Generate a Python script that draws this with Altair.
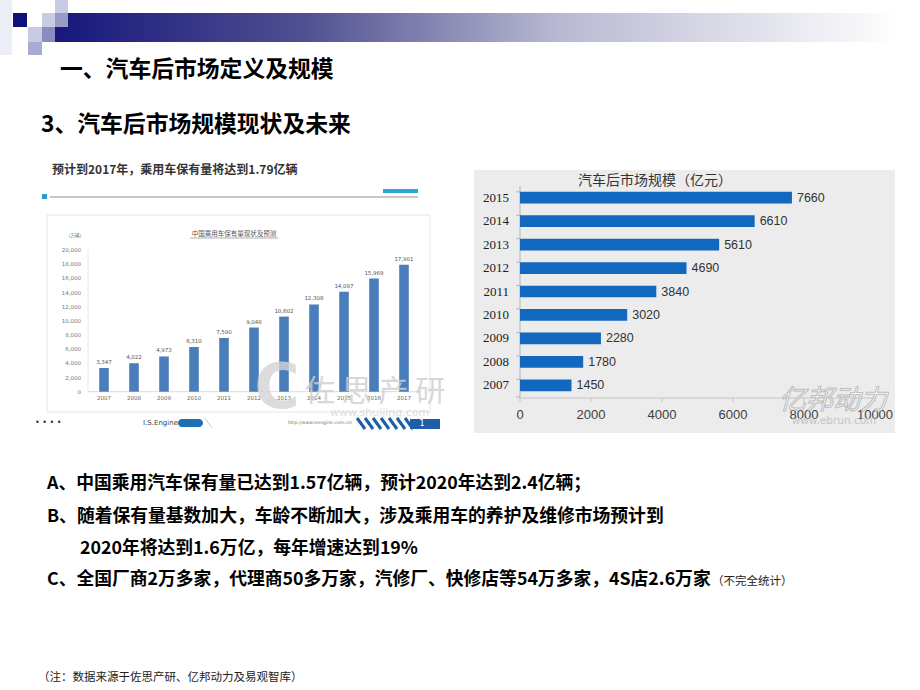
import altair as alt
import pandas as pd

# ---------------- data ----------------
left_years = ["2007", "2008", "2009", "2010", "2011", "2012", "2013", "2014", "2015", "2016", "2017"]
left_values = [3347, 4022, 4973, 6310, 7590, 9048, 10602, 12308, 14097, 15969, 17901]
left_ticks = [0, 2000, 4000, 6000, 8000, 10000, 12000, 14000, 16000, 18000, 20000]

right_years = ["2015", "2014", "2013", "2012", "2011", "2010", "2009", "2008", "2007"]
right_values = [7660, 6610, 5610, 4690, 3840, 3020, 2280, 1780, 1450]
right_ticks = [0, 2000, 4000, 6000, 8000, 10000]

CJK = "Noto Sans CJK SC"
ONE = alt.Data(values=[{}])


def txt(s, x, y, size, align="left", color="#000000", weight="normal", font=CJK, **kw):
    return alt.Chart(ONE).mark_text(
        text=s, align=align, baseline="middle", fontSize=size, font=font,
        color=color, fontWeight=weight, **kw
    ).encode(x=alt.value(x), y=alt.value(y))


def box(x, x2, y, y2, color, **kw):
    return alt.Chart(ONE).mark_rect(color=color, **kw).encode(
        x=alt.value(x), x2=alt.value(x2), y=alt.value(y), y2=alt.value(y2)
    )


def line(x, x2, y, y2, color, width=1, **kw):
    return alt.Chart(ONE).mark_rule(color=color, strokeWidth=width, **kw).encode(
        x=alt.value(x), x2=alt.value(x2), y=alt.value(y), y2=alt.value(y2)
    )


layers = []

# ---------------- header decoration ----------------
grad = alt.Gradient(
    gradient="linear",
    stops=[
        alt.GradientStop(color="#14147c", offset=0),
        alt.GradientStop(color="#4e4e90", offset=0.3),
        alt.GradientStop(color="#b8b8d2", offset=0.6),
        alt.GradientStop(color="#ffffff", offset=1),
    ],
    x1=0, x2=1, y1=0, y2=0,
)
layers.append(alt.Chart(ONE).mark_rect(color=grad).encode(
    x=alt.value(42), x2=alt.value(900), y=alt.value(13), y2=alt.value(42)))
layers.append(box(0, 12, 0, 55, "#eceef6"))
layers.append(box(13, 27, 13, 27, "#10107a"))
layers.append(box(55, 68, 0, 13, "#c9cbe3"))
layers.append(box(42, 55, 13, 27, "#c9cbe3"))
layers.append(box(55, 68, 13, 27, "#9a9cc8"))
layers.append(box(28, 42, 27, 42, "#c9cbe3"))
layers.append(box(42, 55, 27, 42, "#8a8cc0"))
layers.append(box(28, 42, 42, 55, "#a9abd2"))

layers.append(txt("一、汽车后市场定义及规模", 60, 70, 22.8, weight="bold"))
layers.append(txt("3、汽车后市场规模现状及未来", 41, 125, 22.8, weight="bold"))

# ---------------- left panel (image-like) ----------------
layers.append(txt("预计到2017年，乘用车保有量将达到1.79亿辆", 52, 170, 12, weight="bold", color="#333333"))
layers.append(line(50, 418, 197, 197, "#c8c8c8", 2))
layers.append(box(42, 47, 194, 199, "#2a9bd0"))
layers.append(box(383, 418, 189, 193, "#29a8d8"))
layers.append(alt.Chart(ONE).mark_rect(fill="#ffffff", stroke="#e6e6e6", strokeWidth=1).encode(
    x=alt.value(47), x2=alt.value(430), y=alt.value(215), y2=alt.value(412)))
layers.append(txt("中国乘用车保有量现状及预测", 234, 234, 6.5, align="center", color="#555555"))
layers.append(line(190, 278, 238, 238, "#777777", 0.6))
layers.append(txt("（万辆）", 66, 236, 4.5, color="#666666"))

left_df = pd.DataFrame({"year": left_years, "value": left_values})
ltick_df = pd.DataFrame({"tick": left_ticks})
lx = alt.Scale(domain=left_years, range=[89, 419], paddingInner=0.68, paddingOuter=0.34)
ly = alt.Scale(domain=[0, 20000], range=[391.7, 250], nice=False, zero=True)

left_bars = alt.Chart(left_df).mark_bar(color="#4a7ebb").encode(
    x=alt.X("year:N", scale=lx, axis=None),
    y=alt.Y("value:Q", scale=ly, axis=None),
)
left_vals = alt.Chart(left_df).mark_text(fontSize=5.5, color="#555555", dy=-6, font="DejaVu Sans").encode(
    x=alt.X("year:N", scale=lx, axis=None),
    y=alt.Y("value:Q", scale=ly, axis=None),
    text=alt.Text("value:Q", format=","),
)
left_xlab = alt.Chart(left_df).mark_text(fontSize=5.5, color="#666666", font="DejaVu Sans").encode(
    x=alt.X("year:N", scale=lx, axis=None),
    y=alt.value(398),
    text="year:N",
)
left_ylab = alt.Chart(ltick_df).mark_text(fontSize=5.5, color="#777777", align="right", font="DejaVu Sans").encode(
    x=alt.value(81),
    y=alt.Y("tick:Q", scale=ly, axis=None),
    text=alt.Text("tick:Q", format=","),
)
left_base = line(88, 420, 391.7, 391.7, "#d0d0d0", 0.8)
left_vaxis = line(88, 88, 250, 391.7, "#e4e4e4", 0.8)
left_chart = alt.layer(left_vaxis, left_base, left_bars, left_vals, left_xlab, left_ylab)
layers.append(left_chart)

# watermark over the left chart
layers.append(txt("C", 277, 389, 62, align="center", color="#d4d4d4", weight="bold", font="DejaVu Sans", opacity=0.8))
layers.append(txt("佐 思 产 研", 305, 392, 30, color="#cfcfcf", opacity=0.8))
layers.append(txt("www.shuijing.com", 330, 413, 11, color="#d6d6d6", font="DejaVu Sans", opacity=0.8))

# footer of left image
layers.append(txt("• • • •", 35, 423, 8, color="#333333", font="DejaVu Sans"))
layers.append(txt("I.S.Engine", 143, 423, 7, color="#444444", font="DejaVu Sans"))
layers.append(box(178, 203, 419, 427, "#1f6fb5", cornerRadius=4))
layers.append(line(205, 212, 418, 428, "#cccccc", 1))
layers.append(txt("http://www.isengine.com.cn/", 288, 423, 4.5, color="#777777", font="DejaVu Sans"))
for sx in [357, 365, 373, 381, 389, 397, 405]:
    layers.append(line(sx, sx + 8, 418, 429, "#1c5fa8", 3))
layers.append(box(410, 440, 419, 429, "#1c5fa8"))
layers.append(txt("1", 422, 424, 8, align="center", color="#ffffff", font="DejaVu Sans"))

# ---------------- right panel ----------------
layers.append(box(474, 895, 170, 433, "#ececec"))
layers.append(txt("汽车后市场规模（亿元）", 655, 181, 14, align="center", color="#333333"))

right_df = pd.DataFrame({"year": right_years, "value": right_values})
rtick_df = pd.DataFrame({"tick": right_ticks})
rx = alt.Scale(domain=[0, 10000], range=[520, 875], nice=False)
ry = alt.Scale(domain=right_years, range=[186, 397], paddingInner=0.5, paddingOuter=0.25)

right_bars = alt.Chart(right_df).mark_bar(color="#1268bf").encode(
    x=alt.X("value:Q", scale=rx, axis=None),
    y=alt.Y("year:N", scale=ry, axis=None, sort=right_years),
)
right_vals = alt.Chart(right_df).mark_text(align="left", dx=5, fontSize=12.5, color="#333333",
                                           font="Liberation Sans").encode(
    x=alt.X("value:Q", scale=rx, axis=None),
    y=alt.Y("year:N", scale=ry, axis=None, sort=right_years),
    text="value:Q",
)
right_ylab = alt.Chart(right_df).mark_text(align="right", fontSize=13, color="#222222",
                                           font="Liberation Serif").encode(
    x=alt.value(509),
    y=alt.Y("year:N", scale=ry, axis=None, sort=right_years),
    text="year:N",
)
right_yticks = alt.Chart(right_df).mark_rule(color="#b4b4b4", strokeWidth=1).encode(
    x=alt.value(516), x2=alt.value(520),
    y=alt.Y("year:N", scale=ry, axis=None, sort=right_years, bandPosition=0),
)
right_xticks = alt.Chart(rtick_df).mark_rule(color="#c4c4c4", strokeWidth=1).encode(
    x=alt.X("tick:Q", scale=rx, axis=None),
    y=alt.value(398), y2=alt.value(402),
)
right_xlab = alt.Chart(rtick_df).mark_text(fontSize=13, color="#404040", font="Liberation Sans").encode(
    x=alt.X("tick:Q", scale=rx, axis=None),
    y=alt.value(415),
    text=alt.Text("tick:Q", format="d"),
)
right_dom_y = line(520, 520, 186, 398, "#b4b4b4", 1)
right_dom_x = line(520, 875, 398, 398, "#c4c4c4", 1)
right_tick_end = line(516, 520, 397, 397, "#b4b4b4", 1)
right_chart = alt.layer(right_dom_y, right_dom_x, right_tick_end, right_yticks, right_xticks,
                        right_bars, right_vals, right_ylab, right_xlab)
layers.append(right_chart)

# right watermark
layers.append(txt("亿邦动力", 833, 401, 27, align="center", color="#ffffff", fontStyle="italic",
                  stroke="#b8b8b8", strokeWidth=1, opacity=0.9))
layers.append(txt("www.ebrun.com", 834, 421, 10.5, align="center", color="#c4c4c4", font="DejaVu Sans"))

# ---------------- body text ----------------
layers.append(txt("A、中国乘用汽车保有量已达到1.57亿辆，预计2020年达到2.4亿辆；", 47, 484, 17.8, weight="bold"))
layers.append(txt("B、随着保有量基数加大，车龄不断加大，涉及乘用车的养护及维修市场预计到", 47, 517, 17.8, weight="bold"))
layers.append(txt("2020年将达到1.6万亿，每年增速达到19%", 80, 549, 17.8, weight="bold"))
layers.append(txt("C、全国厂商2万多家，代理商50多万家，汽修厂、快修店等54万多家，4S店2.6万家", 47, 580, 17.8, weight="bold"))
layers.append(txt("（不完全统计）", 712, 582, 11.5, color="#222222"))
layers.append(txt("（注：数据来源于佐思产研、亿邦动力及易观智库）", 38, 678, 11.5, color="#222222"))

chart = alt.layer(*layers).resolve_scale(
    x="independent", y="independent"
).properties(
    width=920, height=690, padding=0, autosize=alt.AutoSizeParams(type="none"), background="#ffffff"
).configure_view(stroke=None)

chart.save("out.html", embed_options={"renderer": "svg", "actions": False})
